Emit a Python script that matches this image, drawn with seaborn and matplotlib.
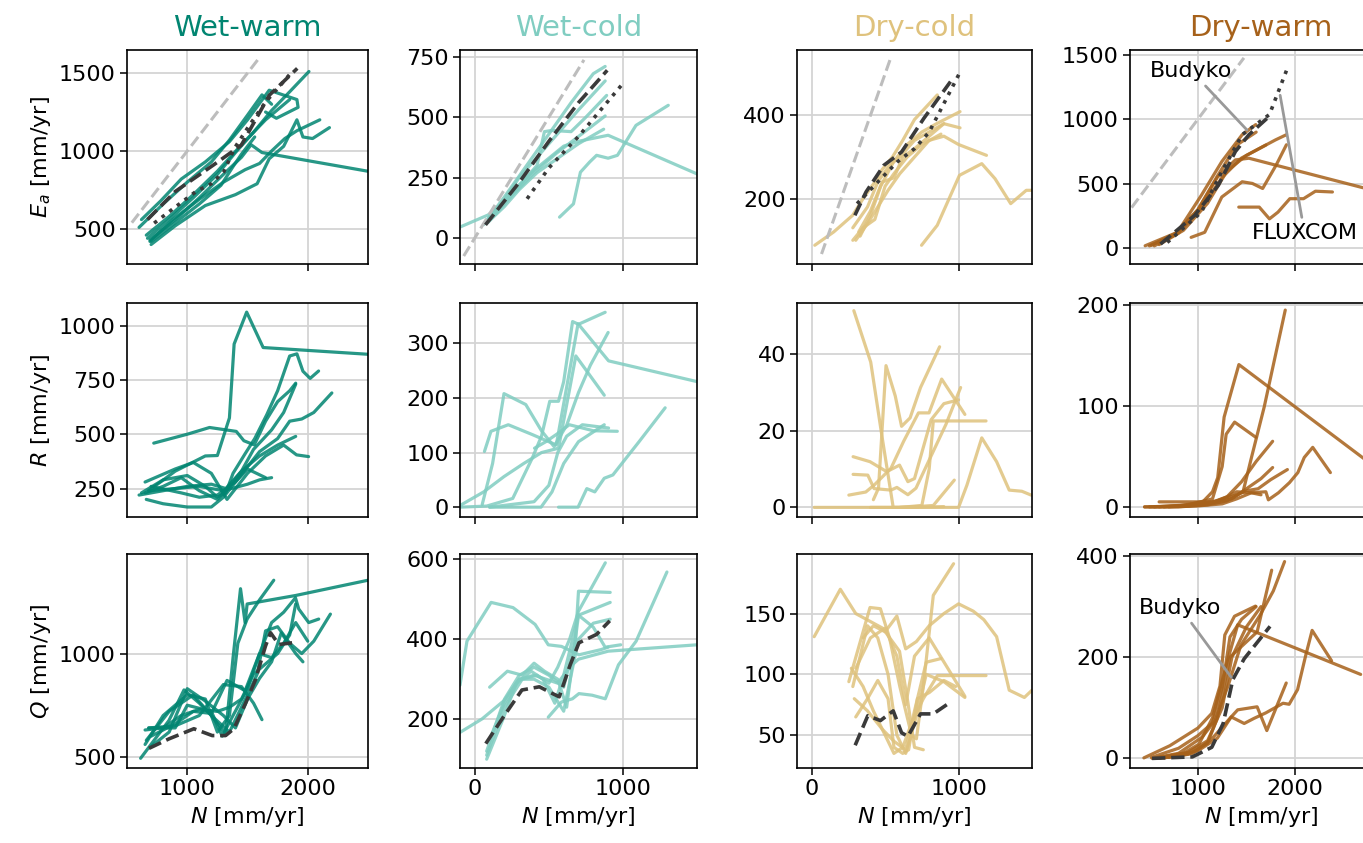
# Water balance components vs precipitation N, per climate class
import numpy as np
import pandas as pd
import seaborn as sns
import matplotlib
matplotlib.use("Agg")
import matplotlib.pyplot as plt

# === Climate classes ===
classes = ["Wet-warm", "Wet-cold", "Dry-cold", "Dry-warm"]
class_colors = ["#018571", "#80cdc1", "#dfc27d", "#a6611a"]

# === Evaporation E_a (mm/yr), one (N, value) pair per model ===
wet_warm_ea = [
    ([620, 780, 950, 1150, 1350, 1500, 1680, 1910, 1920, 1740, 1650], [560, 680, 820, 930, 1060, 1200, 1390, 1330, 1280, 1210, 1250]),
    ([670, 850, 1050, 1250, 1400, 1550, 1700, 1850, 2010], [440, 560, 700, 850, 990, 1120, 1260, 1380, 1510]),
    ([690, 900, 1100, 1300, 1450, 1530, 1620, 2500], [430, 560, 700, 850, 960, 1040, 990, 870]),
    ([700, 900, 1150, 1400, 1580, 1680, 1800, 1910, 1960, 2040, 2180], [400, 520, 650, 720, 790, 950, 1030, 1200, 1090, 1080, 1150]),
    ([690, 880, 1100, 1300, 1480, 1600, 1700, 1810, 1910, 2100], [420, 560, 690, 800, 880, 920, 1000, 1080, 1130, 1200]),
    ([600, 800, 1000, 1200, 1350, 1500, 1620, 1700], [510, 660, 800, 930, 1070, 1230, 1360, 1300]),
    ([660, 850, 1050, 1250, 1450, 1650, 1850], [460, 580, 720, 870, 1040, 1200, 1330]),
    ([700, 900, 1100, 1280, 1380, 1450, 1560], [420, 540, 660, 780, 900, 980, 1090]),
]
wet_warm_ea_budyko = ([670, 900, 1217, 1449, 1681, 1913], [560, 740, 910, 1038, 1358, 1530])
wet_warm_ea_fluxcom = ([725, 900, 1072, 1200, 1304, 1391, 1520, 1652, 1760, 1860], [537, 640, 740, 790, 868, 1017, 1170, 1316, 1410, 1500])
wet_warm_limit = [540, 1600]

wet_cold_ea = [
    ([-100, 90, 200, 300, 400, 500, 600, 700, 900, 1500], [45, 95, 150, 220, 280, 330, 380, 400, 425, 265]),
    ([60, 200, 350, 500, 650, 800, 880], [55, 170, 300, 430, 560, 680, 710]),
    ([80, 200, 300, 400, 500, 600, 700, 880], [70, 160, 250, 320, 390, 460, 530, 650]),
    ([70, 200, 320, 420, 470, 520, 650, 750, 890], [60, 150, 230, 300, 440, 445, 440, 500, 590]),
    ([90, 250, 400, 550, 700, 880], [65, 175, 270, 350, 420, 505]),
    ([572, 666, 713, 775, 822, 900, 963, 1088, 1306], [86, 141, 272, 314, 342, 330, 342, 466, 549]),
    ([80, 200, 300, 420, 560, 700, 870], [60, 130, 200, 270, 330, 390, 450]),
]
wet_cold_ea_budyko = ([72, 300, 500, 700, 894], [54, 230, 400, 560, 694])
wet_cold_ea_fluxcom = ([353, 500, 700, 850, 994], [162, 290, 420, 530, 635])
wet_cold_limit = [-75, 737]

dry_cold_ea = [
    ([21, 150, 279, 350, 430, 480, 550, 620, 700, 855], [88, 120, 160, 200, 240, 270, 300, 340, 390, 449]),
    ([330, 400, 470, 560, 650, 750, 850, 1010], [110, 160, 230, 290, 330, 360, 380, 409]),
    ([280, 350, 430, 500, 560, 650, 750, 880], [100, 130, 150, 230, 260, 300, 330, 355]),
    ([300, 380, 450, 520, 600, 700, 800, 900, 1000, 1190], [100, 140, 180, 220, 260, 300, 340, 350, 330, 304]),
    ([748, 855, 1006, 1158, 1248, 1355, 1461, 1500], [88, 136, 256, 284, 248, 188, 220, 220]),
    ([320, 400, 480, 560, 620, 700, 800, 900, 1010], [120, 170, 240, 250, 300, 320, 350, 380, 370]),
    ([280, 380, 450, 530, 600, 700, 800, 900], [130, 180, 240, 280, 300, 340, 360, 380]),
]
dry_cold_ea_budyko = ([294, 370, 491, 612, 764, 945], [160, 216, 280, 312, 393, 481])
dry_cold_ea_fluxcom = ([309, 450, 582, 700, 800, 1006], [188, 240, 288, 320, 360, 501])
dry_cold_limit = [67, 536]

dry_warm_ea = [
    ([456, 789, 1035, 1246, 1456, 1596], [21, 125, 411, 672, 880, 958]),
    ([500, 750, 1000, 1200, 1386, 1526, 2700], [20, 100, 300, 550, 685, 698, 470]),
    ([1421, 1632, 1737, 1825, 1947, 2088, 2211, 2386], [320, 320, 229, 281, 385, 385, 443, 437]),
    ([930, 1070, 1246, 1456, 1561, 1667, 1807, 1912], [86, 125, 398, 516, 503, 464, 646, 802]),
    ([550, 800, 1050, 1250, 1450, 1650, 1800, 1912], [20, 120, 330, 550, 700, 780, 840, 880]),
    ([520, 780, 1000, 1200, 1400, 1600], [25, 120, 300, 560, 800, 900]),
    ([600, 850, 1100, 1300, 1500, 1700], [30, 140, 350, 600, 720, 800]),
]
dry_warm_ea_budyko = ([614, 965, 1211, 1386, 1526, 1737], [34, 255, 490, 750, 880, 1023])
dry_warm_ea_fluxcom = ([684, 1035, 1246, 1456, 1737, 1912], [47, 281, 594, 880, 1036, 1375])
dry_warm_limit = [316, 1474]

# === Runoff R (mm/yr) ===
wet_warm_r = [
    ([620, 800, 1000, 1150, 1250, 1320, 1380, 1480, 1560, 1660, 1750, 1850, 1910, 1960, 2020, 2090], [230, 290, 310, 260, 210, 230, 320, 410, 480, 590, 700, 860, 870, 790, 757, 791]),
    ([722, 1000, 1185, 1407, 1470, 1556, 1650, 1750, 1850, 1900], [459, 500, 531, 513, 470, 451, 560, 650, 700, 735]),
    ([660, 800, 1000, 1200, 1300, 1400, 1500, 1650], [200, 180, 165, 165, 210, 280, 340, 300]),
    ([680, 900, 1150, 1250, 1350, 1389, 1493, 1630, 2500], [240, 330, 400, 402, 575, 915, 1062, 899, 868]),
    ([650, 900, 1050, 1200, 1330, 1500, 1650, 1800, 1907, 2007], [280, 340, 370, 320, 200, 320, 400, 450, 405, 397]),
    ([700, 950, 1100, 1250, 1400, 1500, 1600, 1750, 1850, 1950, 2050, 2200], [260, 230, 210, 220, 280, 350, 420, 480, 560, 570, 600, 690]),
    ([650, 800, 950, 1100, 1250, 1350, 1450, 1550, 1700, 1800, 1900], [230, 260, 300, 240, 200, 260, 330, 430, 520, 600, 730]),
    ([600, 800, 1000, 1200, 1320, 1450, 1600, 1750, 1900], [220, 240, 260, 270, 250, 330, 400, 450, 490]),
    ([680, 900, 1100, 1300, 1500, 1600, 1700], [240, 250, 260, 240, 270, 290, 300]),
]
wet_cold_r = [
    ([65, 109, 226, 388, 550, 697, 903, 1500], [102, 139, 151, 133, 114, 336, 268, 230]),
    ([-100, 60, 197, 330, 450, 565, 682, 874], [3, 28, 56, 80, 100, 108, 277, 205]),
    ([50, 120, 197, 344, 450, 535, 620, 700, 780, 900], [5, 80, 208, 188, 140, 111, 150, 210, 260, 320]),
    ([-100, 80, 256, 388, 450, 506, 565, 600, 660, 700, 880], [0, 2, 16, 90, 130, 194, 194, 230, 340, 335, 357]),
    ([565, 697, 756, 810, 874, 932, 1109, 1285], [0, 0, 34, 28, 53, 59, 120, 182]),
    ([100, 447, 521, 600, 700, 874], [0, 0, 28, 80, 120, 151]),
    ([403, 480, 560, 638, 800, 962], [108, 120, 135, 151, 140, 139]),
    ([100, 250, 400, 500, 560, 620, 726, 903], [0, 5, 10, 40, 100, 130, 151, 145]),
]
dry_cold_r = [
    ([287, 402, 477, 555, 700, 900], [51.2, 37.8, 18.9, 0, 0, 0.2]),
    ([420, 455, 506, 569, 612, 670, 741, 871], [2, 5, 36.9, 29, 21.1, 23.3, 31.2, 41.8]),
    ([253, 368, 425, 540, 626, 727, 799, 885, 1043], [3.2, 4, 5.8, 10.2, 17.2, 24.6, 24.6, 33.4, 24.2]),
    ([282, 397, 511, 598, 655, 700, 813, 900, 1000], [13.2, 11.9, 9.3, 11, 6.7, 7.5, 22.8, 27, 28]),
    ([282, 382, 425, 540, 580, 655, 710, 828, 914, 1014], [8.6, 8.4, 4.9, 4.5, 5.2, 3.3, 5, 14.6, 21.6, 31.2]),
    ([400, 600, 750, 800, 828, 1187], [0, 0, 0.5, 10, 22.5, 22.5]),
    ([17, 300, 600, 1000, 1057, 1158, 1259, 1345, 1431, 1494], [0, 0, 0, 0, 5.8, 18.1, 11.9, 4.5, 4.2, 3.2]),
    ([600, 750, 828, 971], [0, 0.3, 0.5, 7.1]),
]
dry_warm_r = [
    ([450, 800, 1100, 1300, 1465, 1552, 1683, 1900], [0, 0, 2, 6, 15, 49, 99, 195]),
    ([450, 800, 1050, 1150, 1204, 1270, 1422, 2750], [0, 1, 5, 15, 29, 89, 141, 45]),
    ([550, 900, 1150, 1250, 1291, 1378, 1596], [0, 2, 8, 40, 72, 84, 69]),
    ([600, 900, 1150, 1300, 1450, 1600, 1770], [0, 1, 4, 10, 25, 45, 65]),
    ([600, 950, 1200, 1350, 1500, 1650, 1770], [5, 5, 5, 8, 18, 28, 39]),
    ([700, 1000, 1250, 1400, 1550, 1700, 1726, 1830, 1943, 2030, 2096, 2183, 2365], [0, 1, 3, 8, 14, 15, 7, 14, 24, 34, 49, 59, 34]),
    ([650, 950, 1200, 1400, 1500, 1620, 1750, 1922], [0, 2, 6, 12, 16, 18, 27, 37]),
    ([500, 850, 1100, 1300, 1400, 1550, 1650], [0, 1, 3, 10, 15, 14, 12]),
]

# === Discharge Q (mm/yr) ===
wet_warm_q = [
    ([613, 848, 973, 1100, 1200, 1318, 1380, 1442, 1480, 1497, 1898, 2500], [493, 676, 824, 760, 700, 611, 980, 1314, 1150, 1240, 1281, 1355]),
    ([650, 800, 1000, 1150, 1250, 1350, 1420, 1497, 1600, 1718], [560, 700, 800, 780, 620, 700, 1050, 1167, 1260, 1355]),
    ([680, 900, 1000, 1200, 1290, 1380, 1500, 1600, 1700, 1800, 1898, 1925, 2008, 2091], [640, 640, 750, 720, 600, 700, 830, 1000, 1150, 1200, 1270, 1216, 1150, 1167]),
    ([660, 850, 1050, 1200, 1350, 1500, 1580, 1650, 1750, 1850, 1950, 2050, 2188], [580, 720, 800, 700, 620, 800, 900, 1110, 1130, 1050, 1000, 1060, 1191]),
    ([700, 900, 1050, 1200, 1330, 1480, 1600, 1700, 1800, 1900, 2000], [600, 660, 720, 710, 870, 820, 1000, 980, 1050, 1150, 1060]),
    ([650, 800, 950, 1100, 1250, 1350, 1450, 1550, 1650, 1750, 1850, 1900], [630, 640, 700, 730, 720, 740, 780, 900, 950, 1000, 1090, 1240]),
    ([700, 850, 1000, 1150, 1300, 1400, 1500, 1600, 1700, 1780, 1900, 1960], [550, 620, 830, 770, 700, 640, 780, 880, 960, 1100, 1000, 960]),
    ([680, 900, 1100, 1300, 1450, 1550, 1620], [640, 650, 700, 850, 840, 760, 680]),
]
wet_warm_q_budyko = ([682, 848, 1055, 1207, 1318, 1387, 1483, 1566, 1649, 1691, 1760, 1870], [541, 587, 636, 603, 603, 636, 758, 873, 1036, 1101, 1044, 1052])

wet_cold_q = [
    ([-100, 50, 199, 300, 400, 480, 560, 640, 700, 900, 1500], [167, 201, 247, 300, 310, 300, 290, 330, 350, 370, 386]),
    ([-100, -53, 110, 258, 407, 496, 585, 703, 852, 900], [285, 395, 492, 479, 437, 386, 382, 361, 374, 380]),
    ([80, 200, 320, 420, 500, 560, 640, 700, 881], [110, 230, 300, 310, 290, 330, 400, 470, 591]),
    ([496, 585, 659, 703, 792, 881, 970, 1089, 1297], [205, 243, 251, 264, 260, 251, 336, 395, 568]),
    ([80, 200, 300, 400, 500, 600, 680, 700, 914], [120, 250, 310, 330, 310, 280, 400, 520, 517]),
    ([80, 190, 280, 380, 460, 540, 600, 700, 914], [100, 200, 290, 320, 300, 240, 310, 460, 492]),
    ([100, 220, 320, 400, 470, 560, 620, 700, 800, 880, 985], [280, 320, 310, 340, 320, 300, 230, 460, 430, 380, 386]),
    ([100, 200, 300, 400, 500, 600, 700, 800, 914], [150, 240, 300, 300, 280, 220, 400, 440, 450]),
]
wet_cold_q_budyko = ([74, 199, 318, 436, 525, 570, 644, 703, 822, 911], [139, 209, 273, 281, 264, 256, 336, 391, 412, 446])

dry_cold_q = [
    ([17, 195, 300, 483, 598, 655, 700, 760], [131, 170, 150, 138, 119, 77, 40, 38]),
    ([253, 397, 468, 530, 600, 680, 713, 760, 828, 966], [94, 155, 154, 130, 90, 50, 47, 90, 165, 191]),
    ([350, 420, 500, 580, 640, 713, 800, 900, 1000, 1100, 1172, 1259, 1345, 1448, 1500], [130, 140, 135, 148, 121, 127, 140, 150, 158, 152, 145, 131, 87, 81, 87]),
    ([270, 350, 420, 500, 560, 620, 680, 760, 856, 1000, 1187], [105, 90, 70, 50, 35, 40, 60, 80, 99, 99, 99]),
    ([280, 380, 450, 520, 580, 640, 700, 780, 900, 1043], [90, 140, 130, 100, 50, 35, 60, 100, 94, 81]),
    ([300, 380, 450, 520, 560, 620, 660, 720, 800, 900, 980], [65, 80, 95, 80, 40, 35, 38, 80, 85, 95, 90]),
    ([290, 380, 480, 560, 640, 700, 780, 880], [80, 70, 55, 45, 38, 70, 110, 113]),
    ([300, 400, 500, 580, 640, 700, 800, 1043], [105, 130, 138, 115, 75, 115, 130, 82]),
]
dry_cold_q_budyko = ([296, 382, 468, 555, 612, 655, 741, 828, 943], [41.7, 66, 62, 70, 52, 49, 67.5, 67.5, 77])

dry_warm_q = [
    ([443, 710, 1000, 1143, 1227, 1277, 1377, 1593], [1, 25, 60, 89, 143, 244, 281, 301]),
    ([527, 800, 1043, 1177, 1310, 1443, 1643, 1777, 1893], [0, 10, 42, 75, 143, 224, 284, 331, 389]),
    ([560, 850, 1010, 1150, 1300, 1410, 2110, 2677], [0, 10, 28, 80, 190, 264, 210, 166]),
    ([600, 900, 1100, 1200, 1330, 1610, 1760], [0, 8, 30, 80, 200, 250, 372]),
    ([700, 1000, 1200, 1343, 1410, 1610, 1710, 1910], [2, 15, 40, 82, 96, 102, 55, 149]),
    ([650, 950, 1150, 1343, 1477, 1577, 1700, 1877, 1940, 2027, 2110, 2177, 2377], [1, 10, 40, 82, 69, 79, 90, 109, 107, 136, 203, 253, 193]),
    ([520, 800, 1000, 1150, 1250, 1330, 1450, 1600], [2, 20, 45, 70, 140, 240, 275, 300]),
    ([600, 900, 1100, 1250, 1350, 1500, 1650], [1, 12, 35, 100, 200, 260, 300]),
]
dry_warm_q_budyko = ([527, 943, 1143, 1260, 1360, 1477, 1743], [0, 3, 22, 69, 156, 197, 261])

# === Axis settings ===
x_limits = [(500, 2500), (-100, 1500), (-100, 1500), (300, 3000)]
x_ticks = [[1000, 2000], [0, 1000], [0, 1000], [1000, 2000]]
y_limits = [
    [(275, 1648), (-108, 778), (43, 557), (-120, 1535)],
    [(119, 1104), (-18, 374), (-2.5, 53.2), (-10, 202)],
    [(446, 1482), (78, 613), (23, 199), (-19, 404)],
]
y_ticks = [
    [[500, 1000, 1500], [0, 250, 500, 750], [200, 400], [0, 500, 1000, 1500]],
    [[250, 500, 750, 1000], [0, 100, 200, 300], [0, 20, 40], [0, 100, 200]],
    [[500, 1000], [200, 400, 600], [50, 100, 150], [0, 200, 400]],
]
row_labels = ["$E_a$ [mm/yr]", "$R$ [mm/yr]", "$Q$ [mm/yr]"]

model_lines = [
    [wet_warm_ea, wet_cold_ea, dry_cold_ea, dry_warm_ea],
    [wet_warm_r, wet_cold_r, dry_cold_r, dry_warm_r],
    [wet_warm_q, wet_cold_q, dry_cold_q, dry_warm_q],
]
budyko_lines = [
    [wet_warm_ea_budyko, wet_cold_ea_budyko, dry_cold_ea_budyko, dry_warm_ea_budyko],
    [None, None, None, None],
    [wet_warm_q_budyko, wet_cold_q_budyko, dry_cold_q_budyko, dry_warm_q_budyko],
]
fluxcom_lines = [wet_warm_ea_fluxcom, wet_cold_ea_fluxcom, dry_cold_ea_fluxcom, dry_warm_ea_fluxcom]
limit_lines = [wet_warm_limit, wet_cold_limit, dry_cold_limit, dry_warm_limit]


def to_frame(lines):
    parts = []
    for i, (xs, ys) in enumerate(lines):
        parts.append(pd.DataFrame({"N": xs, "val": ys, "model": i}))
    return pd.concat(parts, ignore_index=True)


sns.set_theme(style="ticks")
plt.rcParams["font.family"] = ["DejaVu Sans"]
plt.rcParams["text.color"] = "black"
plt.rcParams["axes.labelcolor"] = "black"

TICK_FS = 16
LABEL_FS = 16
TITLE_FS = 21
NOTE_FS = 16

W, H = 1363, 843
fig = plt.figure(figsize=(W / 100, H / 100), dpi=100)

col_left = [127, 460, 797, 1130]
col_width = [241, 237, 235, 262]
row_top = [50, 303, 554]
row_height = 214

for r in range(3):
    for c in range(4):
        ax = fig.add_axes([col_left[c] / W, 1 - (row_top[r] + row_height) / H,
                           col_width[c] / W, row_height / H])
        ax.set_axisbelow(True)
        ax.grid(True, color="#d4d4d4", lw=1.3)

        # model spaghetti
        df = to_frame(model_lines[r][c])
        sns.lineplot(data=df, x="N", y="val", units="model", estimator=None, sort=False,
                     color=class_colors[c], alpha=0.85, lw=2.3, ax=ax, legend=False)

        # water limit E = N, plus FLUXCOM
        if r == 0:
            lim = pd.DataFrame({"N": limit_lines[c], "val": limit_lines[c]})
            sns.lineplot(data=lim, x="N", y="val", color="#bdbdbd", lw=2.2, ls="--",
                         ax=ax, legend=False)
            fx, fy = fluxcom_lines[c]
            sns.lineplot(x=fx, y=fy, sort=False, color="#3a3a3a", lw=2.6, ls=":",
                         ax=ax, legend=False)

        if budyko_lines[r][c] is not None:
            bx, by = budyko_lines[r][c]
            sns.lineplot(x=bx, y=by, sort=False, color="#3a3a3a", lw=2.6, ls="--",
                         dashes=(3.2, 1.8), ax=ax, legend=False)

        ax.set_xlim(x_limits[c])
        ax.set_ylim(y_limits[r][c])
        ax.set_xticks(x_ticks[c])
        ax.set_yticks(y_ticks[r][c])
        ax.tick_params(labelsize=TICK_FS, length=5, width=1.1, direction="out",
                       colors="black", pad=3)
        for sp in ax.spines.values():
            sp.set_color("black")
            sp.set_linewidth(1.2)

        ax.set_xlabel("$N$ [mm/yr]" if r == 2 else "", fontsize=LABEL_FS)
        if r < 2:
            ax.set_xticklabels([])
        ax.set_ylabel(row_labels[r] if c == 0 else "", fontsize=LABEL_FS)

        if r == 0:
            ax.set_title(classes[c], color=class_colors[c], fontsize=TITLE_FS, pad=10)

        # annotations in the dry-warm column
        if c == 3 and r == 0:
            ax.annotate("Budyko", xy=(1526, 900), xytext=(930, 1375), fontsize=NOTE_FS,
                        ha="center", va="center",
                        arrowprops=dict(arrowstyle="-", color="#999999", lw=2))
            ax.annotate("FLUXCOM", xy=(1842, 1206), xytext=(2100, 117), fontsize=NOTE_FS,
                        ha="center", va="center",
                        arrowprops=dict(arrowstyle="-", color="#999999", lw=2))
        if c == 3 and r == 2:
            ax.annotate("Budyko", xy=(1360, 156), xytext=(817, 298), fontsize=NOTE_FS,
                        ha="center", va="center",
                        arrowprops=dict(arrowstyle="-", color="#999999", lw=2))

fig.savefig("out.png", dpi=100)
